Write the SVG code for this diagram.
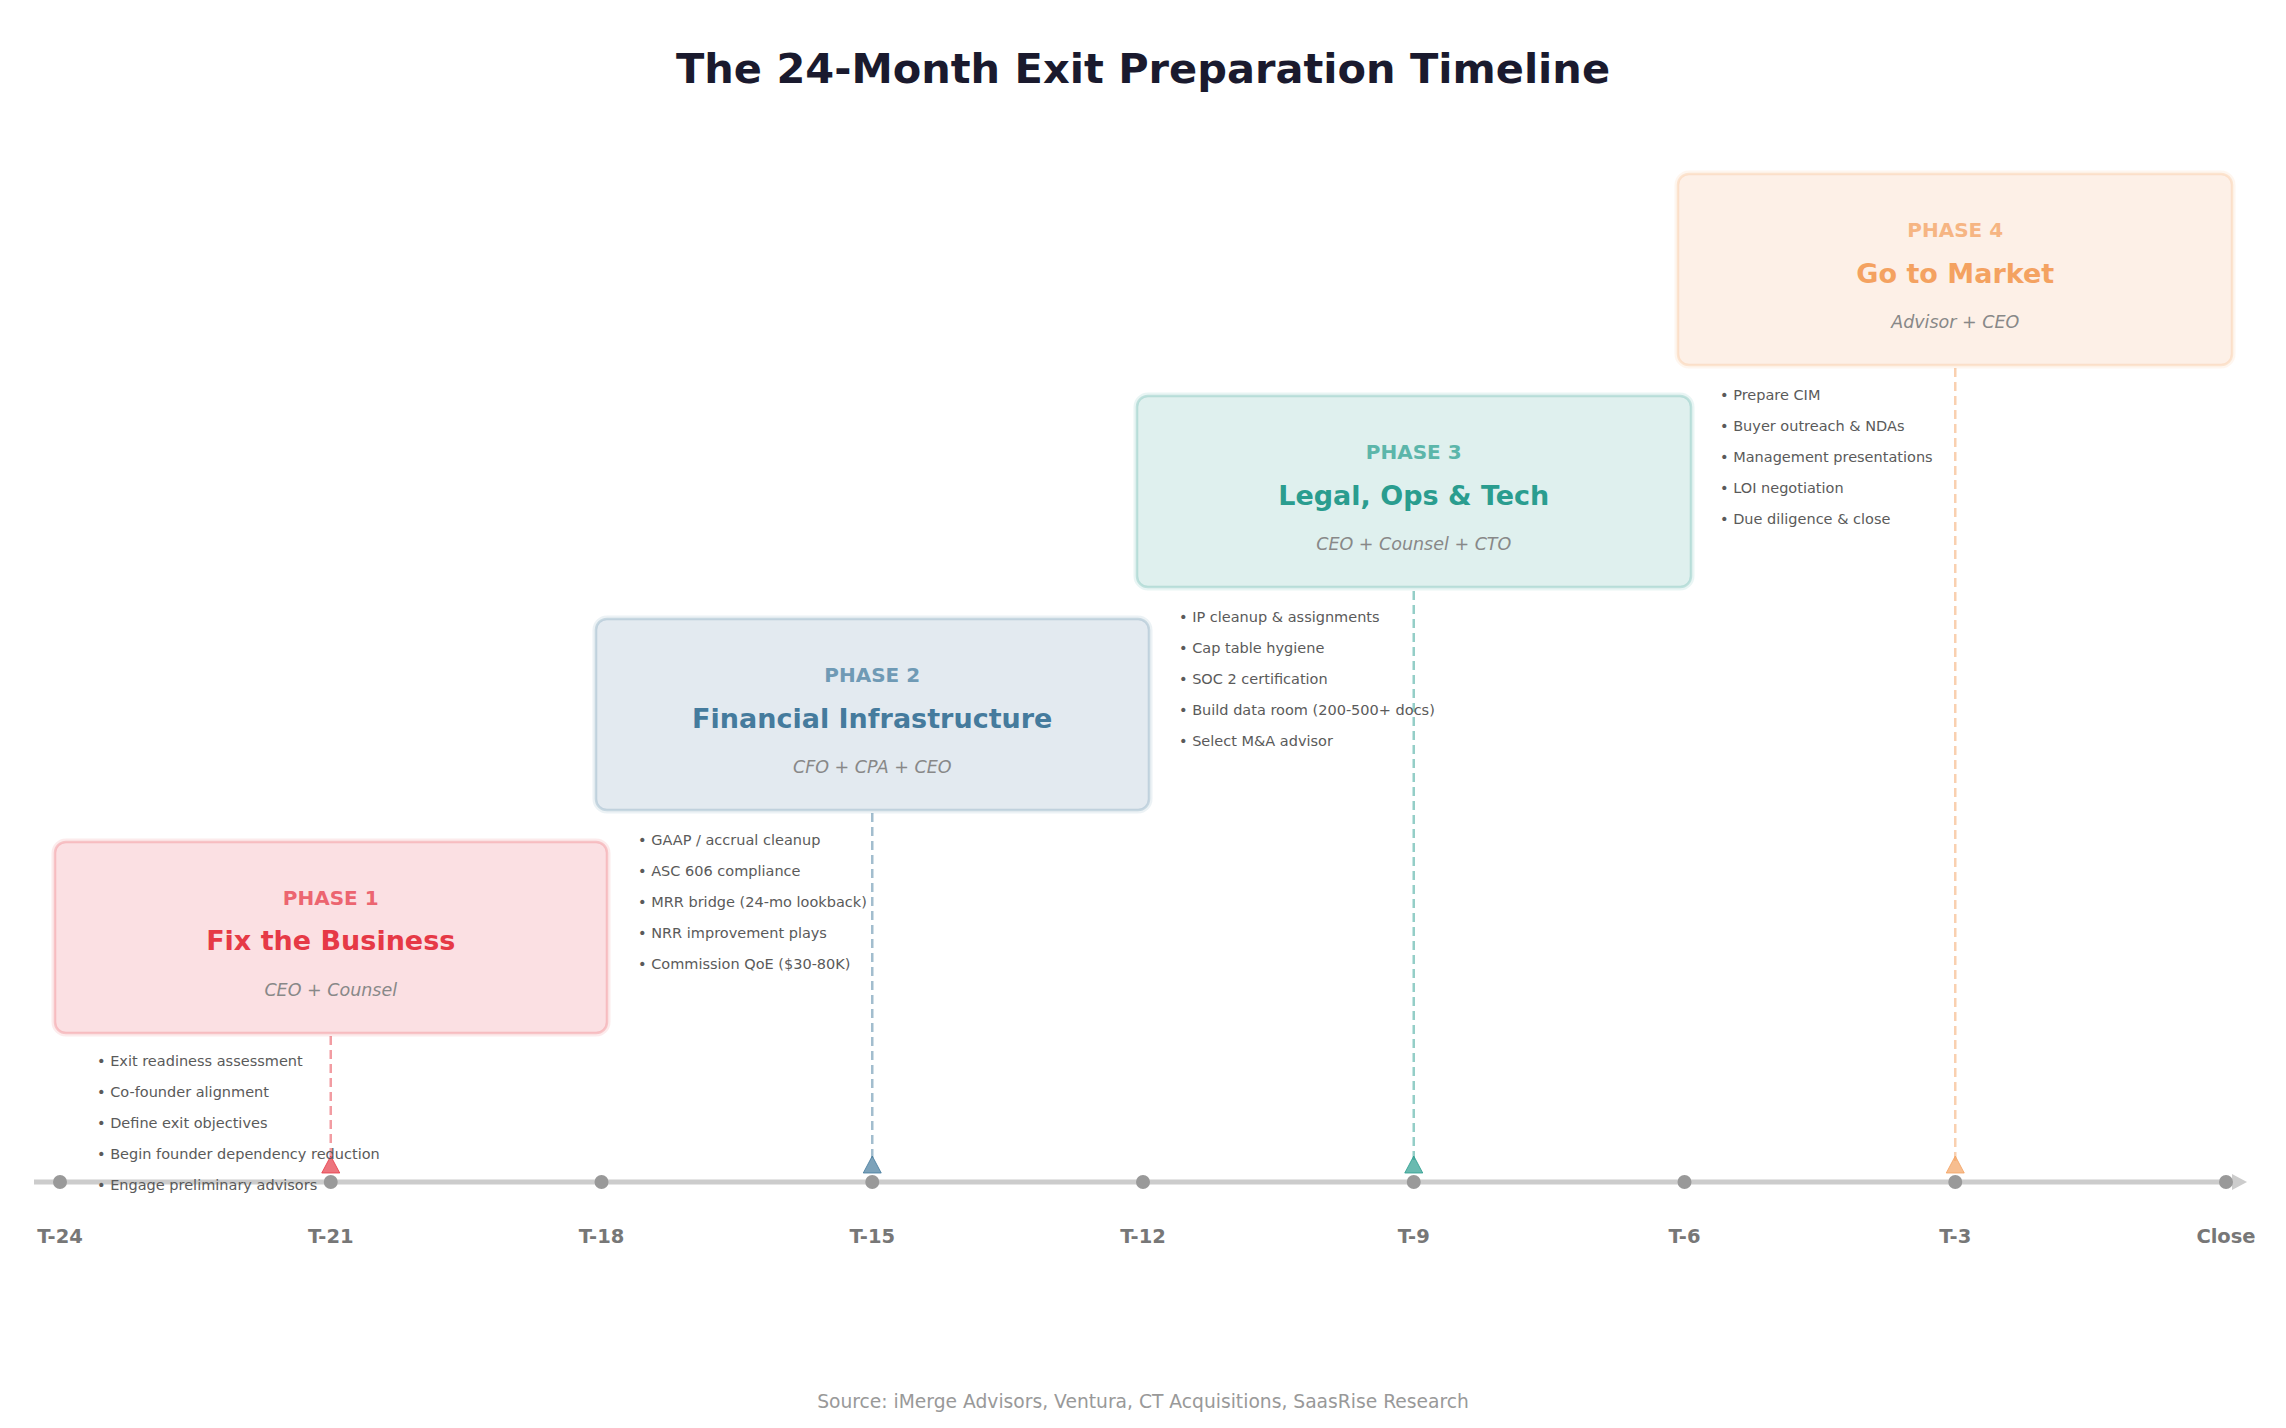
<svg xmlns="http://www.w3.org/2000/svg" width="2286" height="1428" viewBox="0 0 2286 1428">
<style>
text{font-family:"DejaVu Sans","Liberation Sans",sans-serif}
.title{font-size:41.5px;font-weight:bold;fill:#1a1a2e;text-anchor:middle}
.src{font-size:18.7px;fill:#999999;text-anchor:middle}
.tick{font-size:19.5px;font-weight:bold;fill:#777777;text-anchor:middle}
.dot{fill:#999999}
.halo{fill:none;stroke-width:7;stroke-opacity:0.1}
.box{stroke-width:2.5;stroke-opacity:0.22}
.ph{font-size:20px;font-weight:bold;text-anchor:middle}
.nm{font-size:27px;font-weight:bold;text-anchor:middle}
.role{font-size:17.5px;font-style:italic;fill:#888888;text-anchor:middle}
.bul{font-size:14.5px;fill:#5a5a5a}
.dash{stroke-width:2.5;stroke-dasharray:9 5;fill:none;stroke-opacity:0.5}
.mk{fill-opacity:0.7;stroke-opacity:0.8;stroke-width:1}
</style>
<rect width="2286" height="1428" fill="#ffffff"/>
<text class="title" x="1143" y="83">The 24-Month Exit Preparation Timeline</text>

<g id="axis">
<line x1="34" y1="1182" x2="2234" y2="1182" stroke="#cccccc" stroke-width="5"/>
<polygon points="2232,1174 2247,1182 2232,1190" fill="#cccccc"/>
<circle class="dot" cx="60" cy="1182" r="7"/>
<circle class="dot" cx="330.75" cy="1182" r="7"/>
<circle class="dot" cx="601.5" cy="1182" r="7"/>
<circle class="dot" cx="872.25" cy="1182" r="7"/>
<circle class="dot" cx="1143" cy="1182" r="7"/>
<circle class="dot" cx="1413.75" cy="1182" r="7"/>
<circle class="dot" cx="1684.5" cy="1182" r="7"/>
<circle class="dot" cx="1955.25" cy="1182" r="7"/>
<circle class="dot" cx="2226" cy="1182" r="7"/>
<text class="tick" x="60" y="1243">T-24</text>
<text class="tick" x="330.75" y="1243">T-21</text>
<text class="tick" x="601.5" y="1243">T-18</text>
<text class="tick" x="872.25" y="1243">T-15</text>
<text class="tick" x="1143" y="1243">T-12</text>
<text class="tick" x="1413.75" y="1243">T-9</text>
<text class="tick" x="1684.5" y="1243">T-6</text>
<text class="tick" x="1955.25" y="1243">T-3</text>
<text class="tick" x="2226" y="1243">Close</text>
</g>

<g id="connectors">
<line class="dash" x1="330.75" y1="1022" x2="330.75" y2="1162" stroke="#e63946"/>
<line class="dash" x1="872.25" y1="799" x2="872.25" y2="1162" stroke="#457b9d"/>
<line class="dash" x1="1413.75" y1="577" x2="1413.75" y2="1162" stroke="#2a9d8f"/>
<line class="dash" x1="1955.25" y1="354" x2="1955.25" y2="1162" stroke="#f4a261"/>
<polygon class="mk" points="321.75,1173 339.75,1173 330.75,1156" fill="#e63946" stroke="#e63946"/>
<polygon class="mk" points="863.25,1173 881.25,1173 872.25,1156" fill="#457b9d" stroke="#457b9d"/>
<polygon class="mk" points="1404.75,1173 1422.75,1173 1413.75,1156" fill="#2a9d8f" stroke="#2a9d8f"/>
<polygon class="mk" points="1946.25,1173 1964.25,1173 1955.25,1156" fill="#f4a261" stroke="#f4a261"/>
</g>

<g id="phase1">
<rect class="halo" x="55" y="842" width="552" height="191" rx="11" stroke="#e63946"/>
<rect class="box" x="55" y="842" width="552" height="191" rx="11" fill="#fbe0e3" stroke="#e63946"/>
<text class="ph" x="330.75" y="905" fill="#ec6570">PHASE 1</text>
<text class="nm" x="330.75" y="950" fill="#e63946">Fix the Business</text>
<text class="role" x="330.75" y="996">CEO + Counsel</text>
<text class="bul" x="97" y="1066">• Exit readiness assessment</text>
<text class="bul" x="97" y="1097">• Co-founder alignment</text>
<text class="bul" x="97" y="1128">• Define exit objectives</text>
<text class="bul" x="97" y="1159">• Begin founder dependency reduction</text>
<text class="bul" x="97" y="1190">• Engage preliminary advisors</text>
</g>

<g id="phase2">
<rect class="halo" x="596" y="619" width="553" height="191" rx="11" stroke="#457b9d"/>
<rect class="box" x="596" y="619" width="553" height="191" rx="11" fill="#e3eaf0" stroke="#457b9d"/>
<text class="ph" x="872.25" y="682" fill="#6f9ab5">PHASE 2</text>
<text class="nm" x="872.25" y="728" fill="#457b9d">Financial Infrastructure</text>
<text class="role" x="872.25" y="773">CFO + CPA + CEO</text>
<text class="bul" x="638" y="845">• GAAP / accrual cleanup</text>
<text class="bul" x="638" y="876">• ASC 606 compliance</text>
<text class="bul" x="638" y="907">• MRR bridge (24-mo lookback)</text>
<text class="bul" x="638" y="938">• NRR improvement plays</text>
<text class="bul" x="638" y="969">• Commission QoE ($30-80K)</text>
</g>

<g id="phase3">
<rect class="halo" x="1137" y="396" width="554" height="191" rx="11" stroke="#2a9d8f"/>
<rect class="box" x="1137" y="396" width="554" height="191" rx="11" fill="#dff0ee" stroke="#2a9d8f"/>
<text class="ph" x="1413.75" y="459" fill="#5cb6aa">PHASE 3</text>
<text class="nm" x="1413.75" y="505" fill="#2a9d8f">Legal, Ops &amp; Tech</text>
<text class="role" x="1413.75" y="550">CEO + Counsel + CTO</text>
<text class="bul" x="1179" y="622">• IP cleanup &amp; assignments</text>
<text class="bul" x="1179" y="653">• Cap table hygiene</text>
<text class="bul" x="1179" y="684">• SOC 2 certification</text>
<text class="bul" x="1179" y="715">• Build data room (200-500+ docs)</text>
<text class="bul" x="1179" y="746">• Select M&amp;A advisor</text>
</g>

<g id="phase4">
<rect class="halo" x="1678" y="174" width="554" height="191" rx="11" stroke="#f4a261"/>
<rect class="box" x="1678" y="174" width="554" height="191" rx="11" fill="#fdf0e7" stroke="#f4a261"/>
<text class="ph" x="1955.25" y="237" fill="#f6b583">PHASE 4</text>
<text class="nm" x="1955.25" y="283" fill="#f4a261">Go to Market</text>
<text class="role" x="1955.25" y="328">Advisor + CEO</text>
<text class="bul" x="1720" y="400">• Prepare CIM</text>
<text class="bul" x="1720" y="431">• Buyer outreach &amp; NDAs</text>
<text class="bul" x="1720" y="462">• Management presentations</text>
<text class="bul" x="1720" y="493">• LOI negotiation</text>
<text class="bul" x="1720" y="524">• Due diligence &amp; close</text>
</g>

<text class="src" x="1143" y="1408">Source: iMerge Advisors, Ventura, CT Acquisitions, SaasRise Research</text>
</svg>
